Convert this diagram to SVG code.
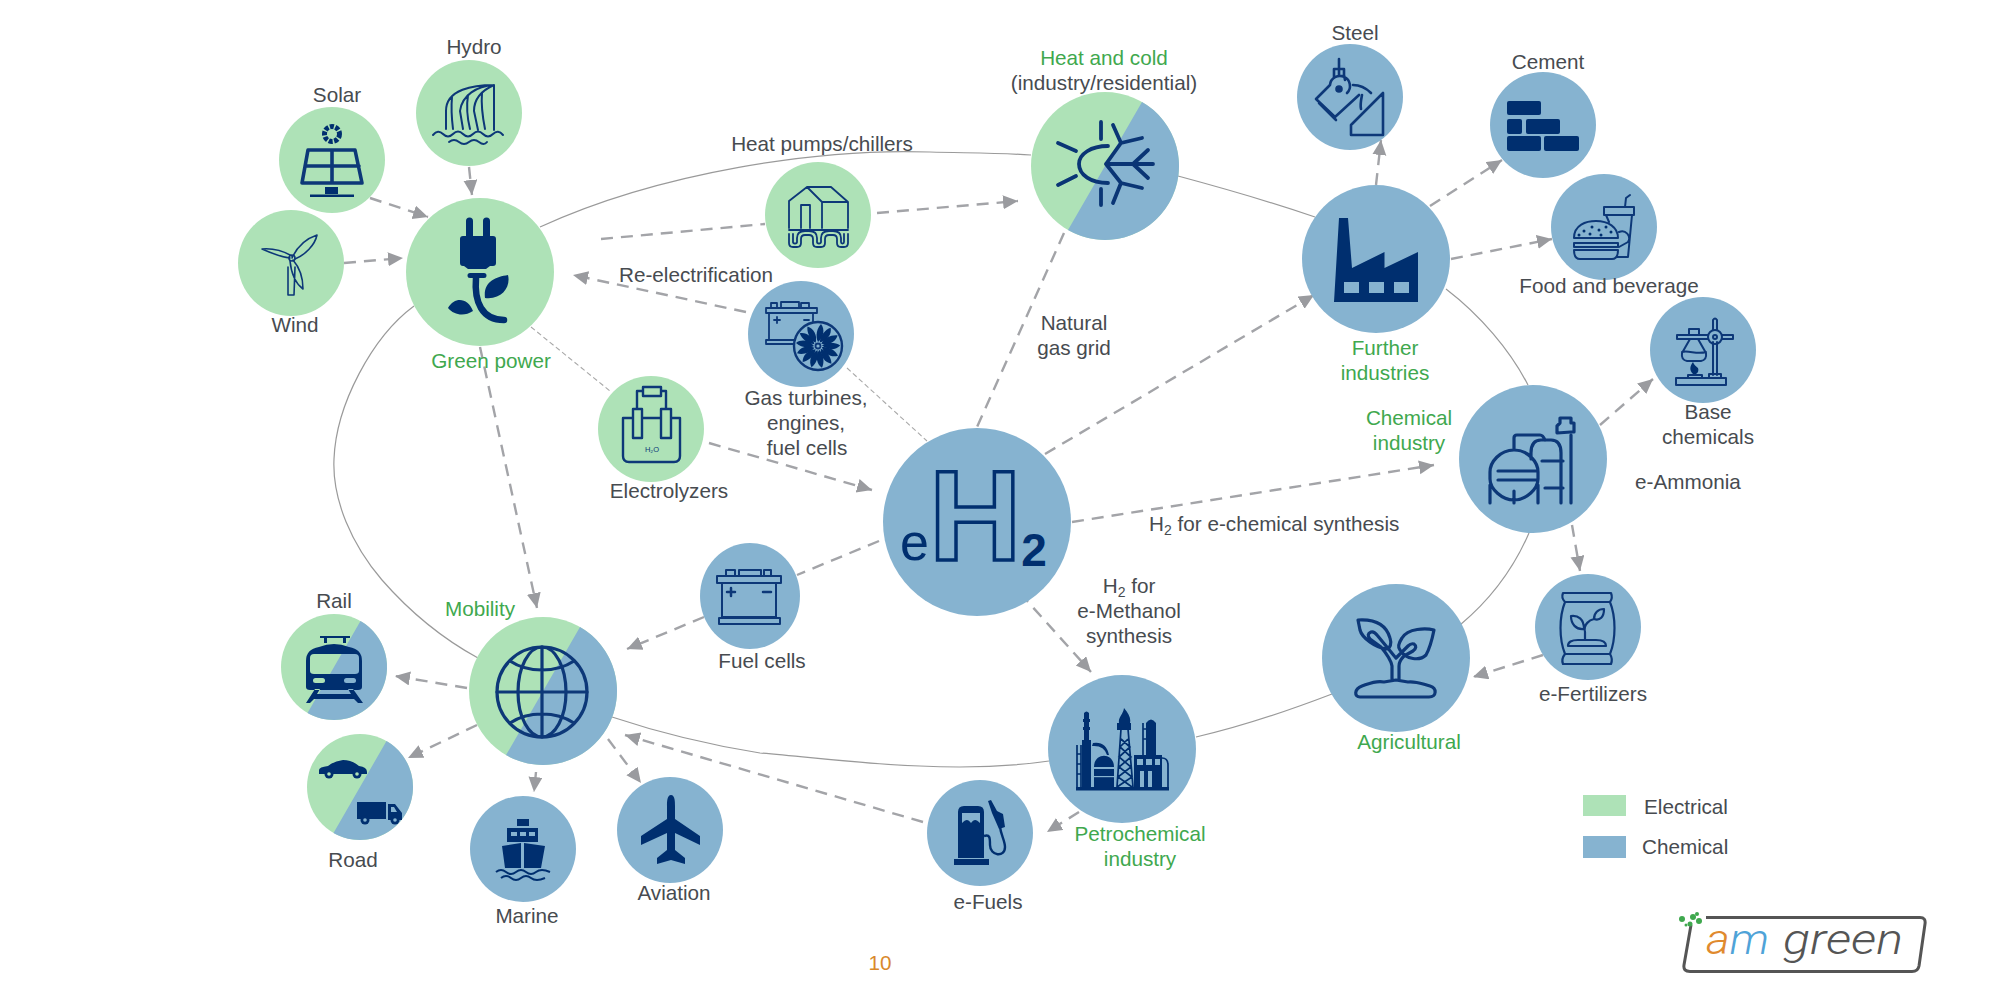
<svg xmlns="http://www.w3.org/2000/svg" xmlns:xlink="http://www.w3.org/1999/xlink" width="1999" height="1006" viewBox="0 0 1999 1006">
<style>
text{font-family:"Liberation Sans",Arial,sans-serif;font-size:20.7px;fill:#474b50;text-anchor:middle}
text.g{fill:#40a84e}
.e{fill:#aee2b7}.c{fill:#86b3d0}
.i{fill:none;stroke:#0d3878;stroke-width:2;stroke-linecap:round;stroke-linejoin:round}
.i2{fill:none;stroke:#0d3878;stroke-width:3.2;stroke-linecap:round;stroke-linejoin:round}
.s{fill:#002f6f;stroke:none}
.ring{fill:none;stroke:#9a9a9a;stroke-width:1.2}
.dash{fill:none;stroke:#a3a4a8;stroke-width:2.4;stroke-dasharray:12 8;marker-end:url(#arrow)}
.dn{fill:none;stroke:#a3a4a8;stroke-width:2.4;stroke-dasharray:12 8}
.thin{fill:none;stroke:#a8a8a8;stroke-width:1.1;stroke-dasharray:5 3}
</style>
<defs>
<marker id="arrow" markerUnits="userSpaceOnUse" markerWidth="18" markerHeight="16" refX="15" refY="7" orient="auto"><path d="M0,0L15,7L0,14Z" fill="#9a9b9f"/></marker>
<path id="blade" d="M0,-4C6,-9 7,-17 3,-22C-1,-18 -3,-10 0,-4Z" fill="#002f6f"/>
</defs>
<g id="connectors">
<path class="ring" d="M540,227C660,172 820,148 930,152C965,153 1000,153 1031,155"/>
<path class="ring" d="M1178,176C1230,190 1280,205 1315,217"/>
<path class="ring" d="M1446,289C1480,315 1510,350 1528,385"/>
<path class="ring" d="M1529,533C1513,570 1490,600 1460,625"/>
<path class="ring" d="M1332,694C1285,712 1240,727 1196,737"/>
<path class="ring" d="M1049,761C1000,768 960,768 920,766C860,764 810,757 760,753C710,745 660,733 612,717"/>
<path class="ring" d="M478,658C445,640 410,612 382,580C352,545 332,500 334,459C336,405 372,337 414,306"/>
<path class="dash" d="M469,167L472,195"/>
<path class="dash" d="M370,198L428,217"/>
<path class="dash" d="M344,263L403,258"/>
<path class="dash" d="M480,347L537,608"/>
<path class="thin" d="M531,327L610,391"/>
<path class="thin" d="M847,368L927,441"/>
<path class="dn" d="M601,239L765,224"/>
<path class="dash" d="M877,213L1018,201"/>
<path class="dash" d="M746,312L573,275"/>
<path class="dn" d="M1064,233L977,427"/>
<path class="dash" d="M1045,454L1314,295"/>
<path class="dash" d="M1376,185L1381,140"/>
<path class="dash" d="M1430,206L1502,160"/>
<path class="dash" d="M1451,259L1552,239"/>
<path class="dash" d="M1600,425L1653,379"/>
<path class="dash" d="M1072,522L1434,465"/>
<path class="dash" d="M1572,525L1580,571"/>
<path class="dash" d="M1543,655L1473,677"/>
<path class="dash" d="M1020,593L1091,672"/>
<path class="dash" d="M1079,812L1047,832"/>
<path class="dash" d="M923,822L625,735"/>
<path class="dash" d="M608,739L641,783"/>
<path class="dash" d="M536,772L534,792"/>
<path class="dash" d="M477,725L408,758"/>
<path class="dash" d="M467,688L395,676"/>
<path class="dash" d="M709,443L872,490"/>
<path class="dn" d="M879,541L797,575"/>
<path class="dash" d="M704,617L627,649"/>
</g>

<g id="node-hydro" transform="translate(469,113)"><circle class="e" r="53"/>
<g class="i"><path d="M25,-28V17M25,-28C5,-28 -23,-24 -23,-2V16M25,-28C8,-27 -7,-18 -9,-2L-6,16M25,-28C16,-24 5,-16 5,-2L9,17M-17,-16C-18,-5 -17,8 -16,16M-1,-18C-3,-5 -1,8 1,16M13,-20C12,-8 14,6 16,16"/><path d="M-36,22Q-31,16 -26,21T-16,21T-6,21T4,21T14,21T24,21T34,22M-20,29Q-15,25 -10,29T0,29T10,29T18,29"/></g></g>
<text x="474" y="54">Hydro</text>

<g id="node-solar" transform="translate(332,160)"><circle class="e" r="53"/>
<circle cx="0" cy="-26" r="7.500" fill="none" stroke="#002f6f" stroke-width="5" stroke-dasharray="4 1.500"/>
<path class="i" style="stroke-width:3.600" d="M-24,-10H23L30,23H-30ZM0,-10V23M-27,6H27"/><path class="s" d="M-7,27H6V34H-7ZM-22,34.500H22V37H-22Z"/></g>
<text x="337" y="102">Solar</text>

<g id="node-wind" transform="translate(291,263)"><circle class="e" r="53"/>
<g class="i" style="stroke-width:1.600"><path d="M-3,4L-3,32H3L4,4M1,-5C6,-16 14,-24 26,-28C24,-18 14,-8 4,-4M-1,-5C-10,-6 -20,-10 -29,-14C-18,-15 -8,-12 1,-7M2,-3C9,5 12,16 12,26C4,20 0,8 -1,-2"/><circle cx="1" cy="-5" r="3"/></g></g>
<text x="295" y="332">Wind</text>

<g id="node-green-power" transform="translate(480,272)"><circle class="e" r="74"/>
<path class="s" d="M-14,-51a3.500,3.500 0 0 1 7,0V-36H-14ZM3,-51a3.500,3.500 0 0 1 7,0V-36H3ZM-17,-36H13Q16,-36 16,-33V-9Q16,-6 13,-6H10L6,-3H-12L-16,-6H-17Q-20,-6 -20,-9V-33Q-20,-36 -17,-36ZM-10,1H4Q6.500,1 6.500,3.500T4,6H-10Q-12.500,6 -12.500,3.500T-10,1ZM5,26C3,10 15,5 28,3C31,15 22,28 5,26ZM-32,36C-25,24 -12,26 -7,39C-16,45 -26,43 -32,36Z"/>
<path d="M-4,6C-6,30 2,48 24,48" fill="none" stroke="#002f6f" stroke-width="6.500" stroke-linecap="round"/></g>
<text class="g" x="491" y="368">Green power</text>

<g id="node-heat-pumps" transform="translate(818,215)"><circle class="e" r="53"/>
<g class="i" style="stroke-width:1.800"><path d="M-29,13V-14L-11,-28H13L30,-13V13M-11,-28L4,-13V13M4,-13H30M-17,13V-10H-8V13M-29,15H30"/><path d="M-29,19V28Q-29,32 -25,32H-21Q-17,32 -17,28V24Q-17,20 -13,20H-9Q-5,20 -5,24V28Q-5,32 -1,32H3Q7,32 7,28V24Q7,20 11,20H15Q19,20 19,24V28Q19,32 23,32H26Q30,32 30,28V19M-25,19V27Q-25,28.500 -23,28.500Q-21,28.500 -21,27V23Q-21,16 -13,16H-9Q-1,16 -1,23V27Q-1,28.500 1,28.500Q3,28.500 3,27V23Q3,16 11,16H15Q23,16 23,23V27Q23,28.500 24.500,28.500Q26,28.500 26,27V19"/></g></g>
<text x="822" y="151">Heat pumps/chillers</text>

<g id="node-heat-cold" transform="translate(1105,166)"><circle class="e" r="74"/><path class="c" d="M37,-64.090A74,74 0 0 1 -37,64.090Z"/>
<g class="i" style="stroke-width:3.800;stroke:#0a3575"><path d="M3,-20C-14,-20 -26,-12 -26,-2C-26,9 -14,17 3,17M-4,-44V-27M-4,23V39M-47,-23L-29,-15M-47,19L-29,10M1,-2H48M28,-2L43,-16M28,-2L43,12M1,-2L16,-23M8,-41L16,-23L37,-28M1,-2L16,17M8,37L16,17L37,22"/></g></g>
<text class="g" x="1104" y="65">Heat and cold</text>
<text x="1104" y="90">(industry/residential)</text>

<g id="node-gas-turbines" transform="translate(801,334)"><circle class="c" r="53"/>
<g class="i" style="stroke-width:1.800"><path d="M-35,-26H16V-21H-35ZM-32,-21V6M12,-21V-4M-35,6H-4M-35,6V10H-4M-30,-26V-31H-24V-26M-20,-26V-32H-2V-26M0,-26V-31H8V-26"/><path d="M-27,-14H-21M-24,-17V-11M3,-14H8"/><circle cx="17" cy="12" r="24" stroke-width="2.400" fill="#86b3d0"/><circle cx="17" cy="12" r="2.500"/></g>
<g transform="translate(17,12)"><use xlink:href="#blade" href="#blade"/><use href="#blade" xlink:href="#blade" transform="rotate(27)"/><use href="#blade" xlink:href="#blade" transform="rotate(54)"/><use href="#blade" xlink:href="#blade" transform="rotate(81)"/><use href="#blade" xlink:href="#blade" transform="rotate(108)"/><use href="#blade" xlink:href="#blade" transform="rotate(135)"/><use href="#blade" xlink:href="#blade" transform="rotate(162)"/><use href="#blade" xlink:href="#blade" transform="rotate(189)"/><use href="#blade" xlink:href="#blade" transform="rotate(216)"/><use href="#blade" xlink:href="#blade" transform="rotate(243)"/><use href="#blade" xlink:href="#blade" transform="rotate(270)"/><use href="#blade" xlink:href="#blade" transform="rotate(297)"/><use href="#blade" xlink:href="#blade" transform="rotate(324)"/></g></g>
<text x="806" y="405">Gas turbines,</text><text x="806" y="430">engines,</text><text x="807" y="455">fuel cells</text>

<g id="node-electrolyzers" transform="translate(651,429)"><circle class="e" r="53"/>
<g class="i" style="stroke-width:2.400"><path d="M-18,-11H-28V27Q-28,33 -22,33H23Q29,33 29,27V-11H20M-9,-11H10M-18,-20H-9V9H-18ZM10,-20H20V9H10ZM-14,-20V-38H-8M15,-20V-38H10M-8,-42H10V-33H-8Z"/></g>
<text x="1" y="23" style="font-size:7.500px;fill:#0d3878">H₂O</text></g>
<text x="669" y="498">Electrolyzers</text>

<g id="node-eh2" transform="translate(977,522)"><circle class="c" r="94"/>
<text x="-77" y="38" style="text-anchor:start;fill:none"><tspan style="font-size:52px;fill:#002f6f">e</tspan><tspan style="font-size:128px;font-weight:bold;fill:none;stroke:#002f6f;stroke-width:3.500">H</tspan><tspan dy="6" style="font-size:46px;font-weight:bold;fill:#002f6f">2</tspan></text></g>

<g id="node-fuel-cells" transform="translate(750,596)"><ellipse class="c" rx="50" ry="53"/>
<g class="i"><path d="M-33,-20H31V-13H-33ZM-28,-13V21M26,-13V21M-31,22H30V28H-31ZM-28,21H26M-24,-20V-26H-15V-20M-11,-20V-26H11V-20M14,-20V-26H21V-20"/><path d="M-23,-4H-15M-19,-8V0M13,-4H21" stroke-width="2.500"/></g></g>
<text x="762" y="668">Fuel cells</text>

<g id="node-steel" transform="translate(1350,97)"><circle class="c" r="53"/>
<g class="i" style="stroke-width:2.600"><path d="M-11,-38V-22M-16,-28H-6V-22L-5,-17M-16,-28V-20M-34,2L-20,-12M-34,2L-15,20L9,-2M-31,6L-14,23M33,-4V38H1V28L33,-4M-20,-12A10,10 0 1 1 -3,-4M3,-12C12,-12 17,-8 21,-4M12,-2C11,3 10,8 11,12"/><circle cx="-11" cy="-8" r="2.500" fill="#0d3878"/></g></g>
<text x="1355" y="40">Steel</text>

<g id="node-cement" transform="translate(1543,125)"><circle class="c" r="53"/>
<g class="s"><rect x="-36" y="-24" width="34" height="14" rx="2"/><rect x="-36" y="-6" width="15" height="15" rx="2"/><rect x="-17" y="-6" width="34" height="15" rx="2"/><rect x="-36" y="11" width="34" height="15" rx="2"/><rect x="1" y="11" width="35" height="15" rx="2"/></g></g>
<text x="1548" y="69">Cement</text>

<g id="node-food" transform="translate(1604,227)"><circle class="c" r="53"/>
<g class="i"><path d="M0,-20H30V-12H0ZM2,-12L5,-5M28,-12L24,30H12M21,-20L22,-29L26,-32M15,5A7,7 0 0 1 24,15L15,20"/><path d="M-30,11C-30,-2 -18,-6 -8,-6C4,-6 14,0 14,11ZM-30,16H14V20H-30ZM-30,23H14C14,30 11,32 8,32H-24C-27,32 -30,30 -30,23Z" fill="#86b3d0"/></g>
<g class="s"><circle cx="-20" cy="4" r="1.500"/><circle cx="-12" cy="0" r="1.500"/><circle cx="-5" cy="3" r="1.500"/><circle cx="2" cy="0" r="1.500"/><circle cx="7" cy="5" r="1.500"/><circle cx="-25" cy="8" r="1.500"/><circle cx="-14" cy="7" r="1.500"/><circle cx="-3" cy="8" r="1.500"/></g></g>
<text x="1609" y="293">Food and beverage</text>

<g id="node-further" transform="translate(1376,259)"><circle class="c" r="74"/>
<path class="s" d="M-37,-41H-28L-24,9L8.500,-7V9L42,-7V43H-42Z"/><g class="c"><rect x="-32" y="23" width="15" height="11"/><rect x="-7" y="23" width="15" height="11"/><rect x="18" y="23" width="15" height="11"/></g></g>
<text class="g" x="1385" y="355">Further</text><text class="g" x="1385" y="380">industries</text>

<g id="node-base-chemicals" transform="translate(1703,350)"><circle class="c" r="53"/>
<g class="i"><path d="M10,-8V25M14,-8V25M10,-20V-30Q12,-33 14,-30V-20M-26,-15H5M-26,-11H5M-26,-15V-11M19,-15H30V-11H19M-14,-21H-4V-15M-14,-21V-15M-13,-11L-21,3Q-22,10 -16,11H-2Q4,10 3,3L-5,-11M-21,2C-14,0 -6,5 3,2M-27,28H23V35H-27ZM-15,28V25H-1V28M6,28V24H18V28"/><circle cx="12" cy="-13" r="7"/><circle cx="12" cy="-13" r="2"/></g>
<path class="s" d="M-10,24C-14,20 -13,16 -10,12C-9,15 -7,16 -5,18C-4,20 -5,23 -7,24Z"/></g>
<text x="1708" y="419">Base</text><text x="1708" y="444">chemicals</text>

<g id="node-chemical" transform="translate(1533,459)"><circle class="c" r="74"/>
<g class="i2"><path d="M-19,-9C-33,-9 -43,3 -43,13V20C-43,30 -31,41 -19,41C-7,41 5,30 5,20V13C5,3 -5,-9 -19,-9ZM-35,12H4M-35,21H4M-43,26V44M5,26V44M-19,32V44M-19,-9V-21Q-19,-24 -16,-24H7Q10,-24 12,-19M-2,0V-6Q-2,-19 8,-19H18Q28,-19 28,-6V44M9,2H30M12,29H30M38,44V-24M24,-26V-33L27,-36V-41H38V-36H41V-27H38L24,-26Z"/></g></g>
<text class="g" x="1409" y="425">Chemical</text><text class="g" x="1409" y="450">industry</text>
<text x="1688" y="489">e-Ammonia</text>
<text x="1149" y="531" style="text-anchor:start">H<tspan dy="4" style="font-size:14px">2</tspan><tspan dy="-4"> for e-chemical synthesis</tspan></text>

<g id="node-fertilizers" transform="translate(1588,627)"><circle class="c" r="53"/>
<g class="i" style="stroke-width:2.200"><path d="M-25,-34H23Q25,-29 22,-25H-23Q-27,-29 -25,-34ZM-23,27H22Q25,32 23,37H-25Q-27,32 -23,27ZM-23,-25C-29,-10 -29,12 -23,27M22,-25C28,-10 28,12 22,27M-20,19H18Q18,13 8,13H-10Q-20,13 -20,19ZM-3,13V5C-5,-3 2,-7 6,-8M-17,-11C-10,-12 -4,-8 -4,2C-12,3 -17,-3 -17,-11ZM6,-8C6,-14 10,-18 16,-18C16,-10 12,-6 6,-8Z"/></g></g>
<text x="1593" y="701">e-Fertilizers</text>

<g id="node-agricultural" transform="translate(1396,658)"><circle class="c" r="74"/>
<g class="i2"><path d="M-36,39H33C41,39 41,30 34,28C26,26 20,23 12,24L0,22L-12,24C-20,22 -28,26 -34,28C-42,31 -42,39 -36,39ZM-38,-38C-22,-39 -10,-34 -6,-20C-4,-14 -6,-10 -9,-9C-20,-10 -34,-20 -36,-28ZM38,-28C30,-30 12,-30 6,-20C2,-14 2,-10 4,-8C10,2 24,3 30,-3C34,-10 36,-18 38,-28ZM-4,21V8C-5,2 -10,-5 -15,-11L-26,-19Q-30,-24 -25,-26Q-22,-27 -19,-23L-5,-6Q-1,-1 0,0M3,21V8C3,4 5,1 8,-2L17,-7Q22,-11 18,-14Q15,-15 12,-12L4,-4L0,0"/></g></g>
<text class="g" x="1409" y="749">Agricultural</text>

<g id="node-petrochemical" transform="translate(1122,749)"><circle class="c" r="74"/>
<path class="s" d="M-46,38H47V41.500H-46ZM-40,-9H-31V38H-40ZM-38,-36Q-35.500,-39 -33,-36V-30H-32V-27H-33V-22H-32V-19H-33V-9H-38V-19H-39V-22H-38V-27H-39V-30H-38ZM-29,-6Q-16,-8 -13,6H-15Q-18,-4 -30,-3ZM-28,20H-8V38H-28ZM-28,18C-28,3 -8,3 -8,18ZM24,-26Q29,-33 34,-26V6H24ZM12,6H40V38H30V22H26V38H22V22H18V38H12ZM2,-41C7,-35 9,-31 8,-26H-3C-4,-32 1,-34 2,-41ZM-5,-26H9V-19H-5Z"/>
<g fill="#86b3d0"><rect x="15" y="10" width="6" height="6"/><rect x="24" y="10" width="6" height="6"/><rect x="33" y="10" width="5" height="6"/><rect x="-28" y="18.500" width="20" height="1.200"/><rect x="-28" y="27" width="20" height="1.200"/></g>
<g fill="none" stroke="#002f6f" stroke-width="1.700"><path d="M-45,-4V38M-41,-4V38M-45,5H-41M-45,15H-41M-45,25H-41M21,-26V6M24,-20H21M24,-10H21M-1,-20L-5,38M6,-20L11,38M-1,-10L8,-2L-3,8L9,18L-4,28L10,38M6,-10L-2,-2L9,8L-3,18L10,28L-5,38M40,9Q46,9 46,16V38"/></g></g>
<text class="g" x="1140" y="841">Petrochemical</text><text class="g" x="1140" y="866">industry</text>
<text x="1129" y="593">H<tspan dy="4" style="font-size:14px">2</tspan><tspan dy="-4"> for</tspan></text><text x="1129" y="618">e-Methanol</text><text x="1129" y="643">synthesis</text>
<text x="1074" y="330">Natural</text><text x="1074" y="355">gas grid</text>

<g id="node-efuels" transform="translate(980,833)"><circle class="c" r="53"/>
<path class="s" d="M-16,-27H-2Q4,-27 4,-21V25H-22V-21Q-22,-27 -16,-27ZM-26,26H9V32H-26ZM8,-32L11,-33L17,-22L23,-19L25,-6L19,-4L12,-20Z"/>
<path d="M-18,-20H0V-10C-4,-14 -6,-14 -9,-10C-12,-14 -14,-14 -18,-10Z" fill="#86b3d0"/>
<path d="M4,3C10,1 10,5 10,12C10,23 25,25 25,14C25,8 21,2 20,-6" fill="none" stroke="#002f6f" stroke-width="2.400"/></g>
<text x="988" y="909">e-Fuels</text>

<g id="node-mobility" transform="translate(543,691)"><circle class="e" r="74"/><path class="c" d="M37,-64.090A74,74 0 0 1 -37,64.090Z"/>
<g class="i" style="stroke-width:3.200"><circle cx="-1" cy="1" r="45"/><ellipse cx="-1" cy="1" rx="24" ry="45"/><path d="M-1,-44V46M-46,1H44M-33,-30C-15,-18 13,-18 31,-30M-33,32C-15,20 13,20 31,32"/></g></g>
<text class="g" x="480" y="616">Mobility</text>

<g id="node-rail" transform="translate(334,667)"><circle class="e" r="53"/><path class="c" d="M26.500,-45.900A53,53 0 0 1 -26.500,45.900Z"/>
<path fill-rule="evenodd" class="s" d="M-15,-20Q0,-26 15,-20Q28,-18 28,-6V20Q28,23 24,23H-24Q-28,23 -28,20V-6Q-28,-18 -15,-20ZM-20,-13Q-24,-13 -24,-9V4Q-24,7 -20,7H21Q25,7 25,4V-9Q25,-13 21,-13ZM-14,-31H16V-29H12V-24H9V-29H-7V-24H-10V-29H-14ZM-28,36L-19,22H-14L-17,27H17L14,22H19L29,36H24L20,32H-20L-24,36Z"/>
<rect x="-21" y="11" width="12" height="5" rx="2.500" fill="#aee2b7"/><rect x="10" y="11" width="12" height="5" rx="2.500" fill="#86b3d0"/></g>
<text x="334" y="608">Rail</text>

<g id="node-road" transform="translate(360,787)"><circle class="e" r="53"/><path class="c" d="M26.500,-45.900A53,53 0 0 1 -26.500,45.900Z"/>
<path class="s" d="M-41,-17Q-41,-20 -32,-21Q-26,-26 -17,-27Q-8,-27 -1,-21Q7,-20 7,-15V-13H-41ZM-3,15H26V32H-3ZM28,17H35L42,26V33H28Z"/>
<g class="s"><circle cx="-31" cy="-13" r="4.500"/><circle cx="-3" cy="-13" r="4.500"/><circle cx="5" cy="33" r="4.500"/><circle cx="35" cy="33" r="4.500"/></g>
<g fill="#86b3d0"><circle cx="5" cy="33" r="1.800"/><circle cx="35" cy="33" r="1.800"/><path d="M31,20H34L37,25H31Z"/></g><g fill="#aee2b7"><circle cx="-31" cy="-13" r="1.800"/><circle cx="-3" cy="-13" r="1.800"/></g></g>
<text x="353" y="867">Road</text>

<g id="node-marine" transform="translate(523,849)"><circle class="c" r="53"/>
<path class="s" d="M-6,-30H6V-23H-6ZM-16,-21H15V-7H-16ZM-21,-3L-2,-6V19H-18ZM22,-3L1,-6V19H18Z"/>
<g fill="#86b3d0"><rect x="-12" y="-17" width="6" height="4"/><rect x="-3" y="-17" width="6" height="4"/><rect x="6" y="-17" width="6" height="4"/></g>
<path d="M-27,23Q-22,19 -17,23T-7,23T3,23T13,23T27,23M-22,29Q-17,25 -12,29T-2,29T8,29T22,29" fill="none" stroke="#002f6f" stroke-width="2"/></g>
<text x="527" y="923">Marine</text>

<g id="node-aviation" transform="translate(670,830)"><circle class="c" r="53"/>
<path class="s" d="M1,-35C5,-35 5,-28 5,-24V-11L30,6V15L5,3V20L15,28V34L1,30L-13,34V28L-3,20V3L-29,15V6L-3,-11V-24C-3,-28 -3,-35 1,-35Z"/></g>
<text x="674" y="900">Aviation</text>

<g id="legend"><rect class="e" x="1583" y="795" width="43" height="21"/><rect class="c" x="1583" y="836" width="43" height="22"/>
<text x="1644" y="814" style="text-anchor:start">Electrical</text><text x="1642" y="854" style="text-anchor:start">Chemical</text></g>

<text x="880" y="970" style="fill:#d9892c">10</text>

<g id="logo"><path d="M1706,917.500H1920Q1926,917.500 1925,924L1919,966Q1918,971.500 1912,971.500H1690Q1683,971.500 1684,965L1691,925" fill="none" stroke="#555" stroke-width="3"/>
<g fill="#3fa84e"><circle cx="1682" cy="919" r="3"/><circle cx="1693" cy="917" r="3"/><circle cx="1699" cy="921" r="3"/><circle cx="1690" cy="924" r="2.500"/><circle cx="1686" cy="925" r="1.500"/><circle cx="1697" cy="914" r="2"/></g>
<text x="1706" y="954" textLength="63" lengthAdjust="spacingAndGlyphs" style="font-family:Roboto,'Liberation Sans',sans-serif;font-weight:300;font-size:42px;font-style:italic;text-anchor:start"><tspan style="fill:#e08a2e">a</tspan><tspan style="fill:#4fa3d8">m</tspan></text>
<text x="1783" y="954" textLength="120" lengthAdjust="spacingAndGlyphs" style="font-family:Roboto,'Liberation Sans',sans-serif;font-weight:300;font-size:42px;font-style:italic;text-anchor:start;fill:#555">green</text></g>

<text x="696" y="282">Re-electrification</text>
</svg>
